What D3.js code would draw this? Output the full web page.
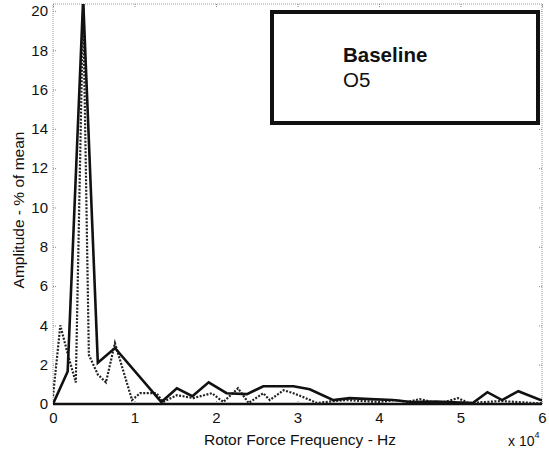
<!DOCTYPE html>
<html>
<head>
<meta charset="utf-8">
<script src="https://cdn.jsdelivr.net/npm/d3@7"></script>
<style>
  body { margin: 0; background: #fff; }
  text { font-family: "Liberation Sans", Arial, sans-serif; fill: #111; }
</style>
</head>
<body>
<div id="chart"></div>
<script>
// frequencies are in units of 10^4 Hz
var baselineFreq = [0, 0.18, 0.37, 0.55, 0.76, 1.33, 1.52, 1.71, 1.91, 2.13, 2.38, 2.58, 2.95, 3.15, 3.44, 3.64, 3.89, 4.17, 4.4, 4.7, 5.15, 5.33, 5.51, 5.71, 5.98, 6.0];
var baselineAmp  = [0, 1.65, 20.6, 2.1, 2.85, 0.1, 0.8, 0.4, 1.1, 0.55, 0.5, 0.9, 0.9, 0.75, 0.2, 0.3, 0.25, 0.2, 0.1, 0.12, 0.05, 0.6, 0.2, 0.65, 0.2, 0.2];

var o5Freq = [0, 0.09, 0.19, 0.28, 0.37, 0.44, 0.55, 0.65, 0.76, 0.97, 1.07, 1.27, 1.35, 1.52, 1.72, 1.95, 2.09, 2.27, 2.4, 2.58, 2.66, 2.83, 2.95, 3.07, 3.24, 3.45, 3.6, 3.8, 4.0, 4.2, 4.35, 4.5, 4.65, 4.8, 4.97, 5.1, 5.3, 5.5, 5.7, 5.9, 6.0];
var o5Amp  = [0.4, 4.0, 2.4, 1.1, 20.4, 2.5, 1.5, 1.1, 3.1, 0.2, 0.55, 0.55, 0.1, 0.45, 0.3, 0.55, 0.1, 0.8, 0.05, 0.55, 0.2, 0.7, 0.55, 0.35, 0.05, 0.15, 0.2, 0.15, 0.1, 0.2, 0.1, 0.25, 0.1, 0.1, 0.3, 0.05, 0.1, 0.15, 0.1, 0.05, 0.05];

var xTicks = [0, 1, 2, 3, 4, 5, 6];
var yTicks = [0, 2, 4, 6, 8, 10, 12, 14, 16, 18, 20];
var legendLines = ["Baseline", "O5"];

var width = 549;
var height = 452;

var plotLeft = 53, plotRight = 542, plotTop = 4, plotBottom = 404;

var xScale = d3.scaleLinear().domain([0, 6]).range([plotLeft, plotRight]);
var yScale = d3.scaleLinear().domain([0, 20.35]).range([plotBottom, plotTop]);

var svg = d3.select("#chart").append("svg")
    .attr("width", width)
    .attr("height", height);

svg.append("clipPath").attr("id", "plotclip")
    .append("rect")
    .attr("x", plotLeft).attr("y", plotTop)
    .attr("width", plotRight - plotLeft).attr("height", plotBottom - plotTop);

// dotted frame
svg.append("rect")
    .attr("x", plotLeft).attr("y", plotTop)
    .attr("width", plotRight - plotLeft).attr("height", plotBottom - plotTop)
    .attr("fill", "none")
    .attr("stroke", "#999")
    .attr("stroke-width", 1)
    .attr("stroke-dasharray", "1,1");

// axes with inward ticks
var xAxis = d3.axisBottom(xScale).tickValues(xTicks).tickSize(-4).tickPadding(8).tickFormat(d3.format("d"));
var yAxis = d3.axisLeft(yScale).tickValues(yTicks).tickSize(-4).tickPadding(5);

svg.append("g").attr("transform", `translate(0, ${plotBottom})`).call(xAxis);
svg.append("g").attr("transform", `translate(${plotLeft}, 0)`).call(yAxis);
svg.append("g").attr("transform", `translate(0, ${plotTop})`)
    .call(d3.axisTop(xScale).tickValues(xTicks).tickSize(-4).tickFormat(""));
svg.append("g").attr("transform", `translate(${plotRight}, 0)`)
    .call(d3.axisRight(yScale).tickValues(yTicks).tickSize(-4).tickFormat(""));

svg.selectAll(".domain").remove();
svg.selectAll(".tick line").attr("stroke", "#888").attr("stroke-dasharray", "1,1");
svg.selectAll(".tick text")
    .style("font-size", "15px")
    .style("font-family", "'Liberation Sans', Arial, sans-serif")
    .attr("fill", "#111");

// bottom axis line
svg.append("line")
    .attr("x1", plotLeft).attr("x2", plotRight)
    .attr("y1", plotBottom).attr("y2", plotBottom)
    .attr("stroke", "#111")
    .attr("stroke-width", 2.5);

var line = d3.line()
    .x(d => xScale(d[0]))
    .y(d => yScale(d[1]));

var plot = svg.append("g").attr("clip-path", "url(#plotclip)");

plot.append("path")
    .datum(d3.zip(o5Freq, o5Amp))
    .attr("d", line)
    .attr("fill", "none")
    .attr("stroke", "#222")
    .attr("stroke-width", 2.2)
    .attr("stroke-dasharray", "2,1.5");

plot.append("path")
    .datum(d3.zip(baselineFreq, baselineAmp))
    .attr("d", line)
    .attr("fill", "none")
    .attr("stroke", "#111")
    .attr("stroke-width", 2.6)
    .attr("stroke-linejoin", "miter");

// axis labels
svg.append("text")
    .attr("x", 300)
    .attr("y", 445)
    .attr("text-anchor", "middle")
    .style("font-size", "15.5px")
    .text("Rotor Force Frequency - Hz");

svg.append("text")
    .attr("transform", "rotate(-90)")
    .attr("x", -210)
    .attr("y", 24)
    .attr("text-anchor", "middle")
    .style("font-size", "15.5px")
    .text("Amplitude - % of mean");

var mult = svg.append("text")
    .attr("x", 508)
    .attr("y", 446)
    .style("font-size", "14px");
mult.append("tspan").text("x 10");
mult.append("tspan").attr("dy", -8).style("font-size", "9px").text("4");

// legend box
svg.append("rect")
    .attr("x", 272).attr("y", 12)
    .attr("width", 266).attr("height", 111)
    .attr("fill", "#fff")
    .attr("stroke", "#111")
    .attr("stroke-width", 4);

svg.selectAll(".legtext")
    .data(legendLines).enter()
    .append("text")
    .attr("class", "legtext")
    .attr("x", 343)
    .attr("y", (d, i) => 62 + i * 25)
    .style("font-size", "20.5px")
    .style("font-weight", (d, i) => i == 0 ? "bold" : "normal")
    .text(d => d);
</script>
</body>
</html>
